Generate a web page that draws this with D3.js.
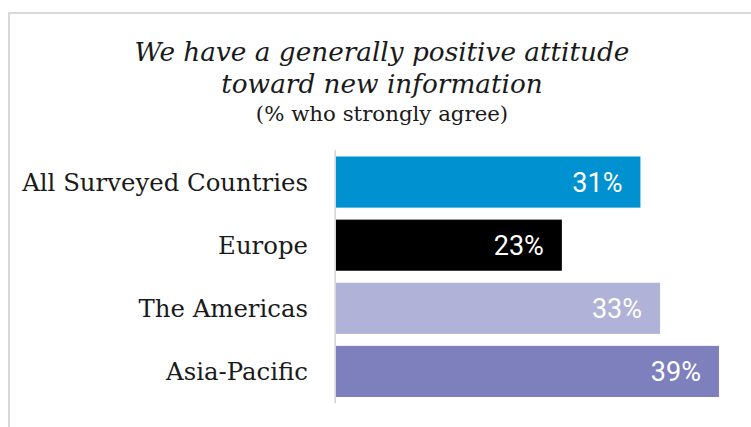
<!DOCTYPE html>
<html><head><meta charset="utf-8">
<script src="https://cdn.jsdelivr.net/npm/d3@7"></script>
<style>body{margin:0;background:#fff}</style>
</head><body>
<svg id="c" width="751" height="427"></svg>
<script>
// ---- data ----
const titleLines = ["We have a generally positive attitude", "toward new information"];
const subtitle = "(% who strongly agree)";
const categories = ["All Surveyed Countries", "Europe", "The Americas", "Asia-Pacific"];
const values = [31, 23, 33, 39];
const barColors = ["#0091d0", "#000000", "#b0b2d8", "#7e7fbd"];

// ---- drawing ----
const W = 751, H = 427;
const svg = d3.select("#c");

// frame (left and top border)
svg.append("path")
  .attr("d", `M9,${H} V13 H${W}`)
  .attr("fill", "none")
  .attr("stroke", "#d9d9d9")
  .attr("stroke-width", 2);

// titles
const cx = 382;
svg.selectAll("text.title").data(titleLines).join("text")
  .attr("class", "title")
  .attr("x", cx)
  .attr("y", (d, i) => 60.5 + i * 32.8)
  .attr("text-anchor", "middle")
  .style("font-family", '"DejaVu Serif"')
  .style("font-style", "italic")
  .style("font-size", "26.3px")
  .attr("fill", "#1a1a1a")
  .text(d => d);

svg.append("text")
  .attr("x", cx)
  .attr("y", 120.5)
  .attr("text-anchor", "middle")
  .style("font-family", '"DejaVu Serif"')
  .style("font-size", "21.3px")
  .attr("fill", "#1a1a1a")
  .text(subtitle);

// scales
const x = d3.scaleLinear().domain([0, 40]).range([336, 336 + 392.8]);
const y = d3.scaleBand().domain(categories).range([150.5, 403])
  .paddingInner(0.19).paddingOuter(0.095);

// bars
svg.selectAll("rect.bar").data(values).join("rect")
  .attr("class", "bar")
  .attr("x", x(0))
  .attr("y", (d, i) => y(categories[i]))
  .attr("width", d => x(d) - x(0))
  .attr("height", y.bandwidth())
  .attr("fill", (d, i) => barColors[i]);

// axis line
svg.append("line")
  .attr("x1", 335.2).attr("x2", 335.2)
  .attr("y1", 150).attr("y2", 403)
  .attr("stroke", "#d6d6d6")
  .attr("stroke-width", 1.6);

// category labels
svg.selectAll("text.cat").data(categories).join("text")
  .attr("class", "cat")
  .attr("x", 308)
  .attr("y", d => y(d) + y.bandwidth() / 2 + 8.5)
  .attr("text-anchor", "end")
  .style("font-family", '"DejaVu Serif"')
  .style("font-size", "24.4px")
  .attr("fill", "#1a1a1a")
  .text(d => d);

// value labels
svg.selectAll("text.val").data(values).join("text")
  .attr("class", "val")
  .attr("x", d => x(d) - 18)
  .attr("y", (d, i) => y(categories[i]) + y.bandwidth() / 2 + 10)
  .attr("text-anchor", "end")
  .style("font-family", "Roboto")
  .style("font-size", "27px")
  .attr("fill", "#ffffff")
  .text(d => d + "%");
</script></body></html>
